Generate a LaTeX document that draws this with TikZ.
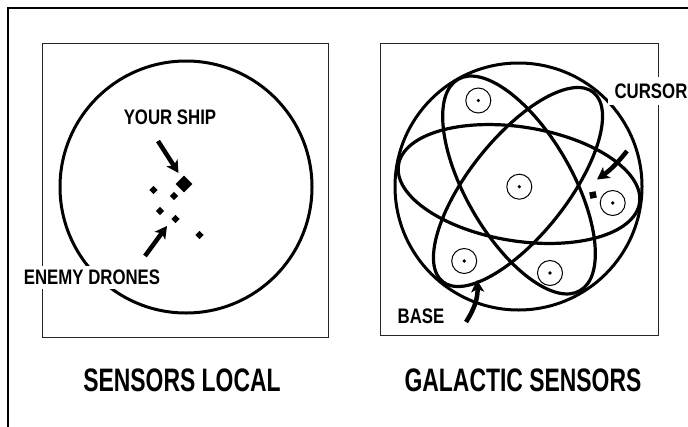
\documentclass[tikz,border=0pt]{standalone}
\usepackage{fontspec}
\newfontfamily\lblfont[FakeStretch=0.8]{Liberation Sans Bold}
\newfontfamily\ttlfont[FakeStretch=0.705]{Liberation Sans Bold}
\usetikzlibrary{arrows.meta,shapes.geometric}

\begin{document}
\begin{tikzpicture}[x=1pt,y=-1pt,
    frame/.style={line width=1.5pt},
    panel/.style={line width=0.9pt,draw=black!85},
    rim/.style={line width=3pt},
    orbit/.style={line width=3.2pt},
    lbl/.style={font=\lblfont\fontsize{21}{21}\selectfont,inner sep=2pt},
    ttl/.style={font=\ttlfont\fontsize{32.5}{33}\selectfont,inner sep=0pt},
    drone/.style={diamond,fill,inner sep=0pt,minimum size=8.6pt},
    planet/.style={circle,draw,line width=1pt,minimum size=25pt,inner sep=0pt},
    pointer/.style={line width=4.5pt,-{Stealth[length=12pt,width=13pt,inset=3pt]}}
]
    \useasboundingbox (0,0) rectangle (688,426);

    % Outer frame
    \draw[frame] (8,440) -- (8,8) -- (700,8);

    % Sensors local
    \draw[panel] (42,43) rectangle (328,337);
    \draw[rim] (186,187) circle (126);
    \node[drone,minimum size=17pt] (ship) at (184,184) {};
    \foreach \x/\y [count=\i] in {153.5/190,174/196,160/211,175.5/219,199.5/235}
        { \node[drone] (d\i) at (\x,\y) {}; }
    \node[lbl] (shiplbl) at (170,117.5) {YOUR SHIP};
    \node[lbl,fill=white,inner sep=4pt] (dronelbl) at (92,277.5) {ENEMY DRONES};
    \coordinate (shiptail) at (158,141);
    \coordinate (shiptip) at (178.5,173);
    \coordinate (dronetail) at (145,256);
    \coordinate (dronetip) at (167,226);
    \draw[pointer] (shiptail) -- (shiptip);
    \draw[pointer] (dronetail) -- (dronetip);
    \node[ttl] (local) at (182,380) {SENSORS LOCAL};

    % Galactic sensors
    \draw[panel] (380,43) rectangle (658,335);
    \draw[rim] (518.5,186.5) circle (123.5);
    \draw[orbit,rotate around={-9:(519,184)}] (519,184) ellipse [x radius=122,y radius=57];
    \draw[orbit,rotate around={-60:(519,185)}] (519,185) ellipse [x radius=122,y radius=53];
    \draw[orbit,rotate around={51.5:(518,187)}] (518,187) ellipse [x radius=121,y radius=49];
    \foreach \x/\y [count=\i] in {478.3/100.5,519.3/186.7,612.7/203,464.2/261,550/273}
    {
        \node[planet] (p\i) at (\x,\y) {};
        \fill (p\i.center) circle (1.8);
    }
    \node[fill,minimum size=6.5pt,inner sep=0pt,rotate=12] (cursor) at (593,195) {};
    \node[lbl,fill=white,inner sep=7pt] (cursorlbl) at (651,91) {CURSOR};
    \node[lbl] (baselbl) at (421,316.5) {BASE};
    \coordinate (cursortail) at (627,151);
    \coordinate (cursortip) at (597,179.5);
    \coordinate (basetail) at (466,322);
    \coordinate (basetip) at (477,280);
    \draw[pointer] (cursortail) to[bend left=8] (cursortip);
    \draw[pointer] (basetail) to[bend right=18] (basetip);
    \node[ttl] (galactic) at (523,380) {GALACTIC SENSORS};
\end{tikzpicture}
\end{document}
